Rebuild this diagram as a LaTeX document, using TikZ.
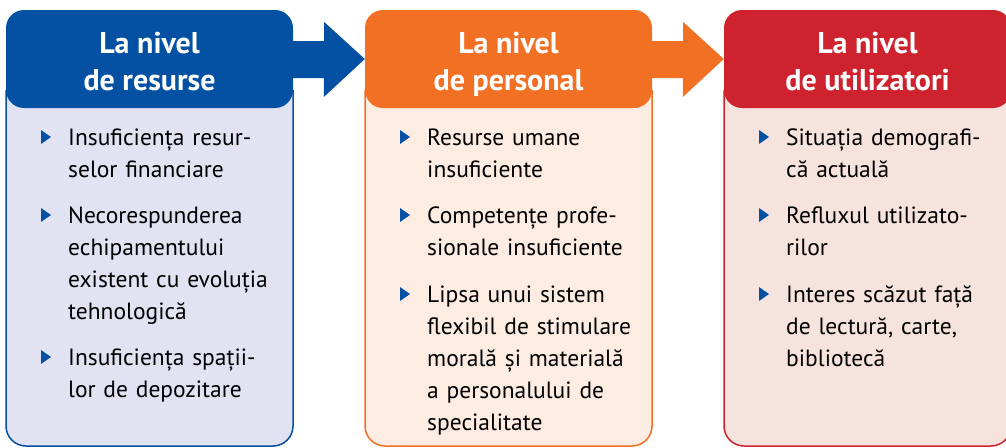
\documentclass[tikz,border=0pt]{standalone}
\usepackage{fontspec}
\setmainfont{PT Sans}

\definecolor{resblue}{HTML}{0450A2}
\definecolor{resback}{HTML}{E1E3F2}
\definecolor{persorange}{HTML}{F27024}
\definecolor{persback}{HTML}{FDECE1}
\definecolor{utilred}{HTML}{CE232E}
\definecolor{utilback}{HTML}{F6E3DE}

\tikzset{
  header/.style={rounded corners=18pt, minimum width=287pt, minimum height=98pt,
                 inner sep=0pt, text=white, align=center,
                 text height=62pt, text depth=0pt,
                 font=\fontsize{30}{37}\selectfont\bfseries},
  panel/.style={rounded corners=20pt, line width=1.5pt},
  item/.style={anchor=base west, text width=260pt, align=left, inner sep=0pt,
               font=\fontsize{23.5}{32}\selectfont}
}
% small blue triangle in front of an item
\newcommand{\bulmark}[1]{\fill[resblue] (#1.base west) ++(-27,-1) -- ++(0,-14) -- ++(10,7) -- cycle;}

\begin{document}
\begin{tikzpicture}[x=1pt,y=-1pt]
  \clip (0,0) rectangle (1006,447);

  % the three panels
  \draw[panel, draw=resblue, fill=resback] (6,90) -- (6,446) -- (293,446) -- (293,90);
  \draw[panel, draw=persorange, fill=persback] (365,90) -- (365,446) -- (652,446) -- (652,90);
  \draw[panel, draw=utilred, fill=utilback] (724,90) -- (724,446) -- (1011,446) -- (1011,90);

  % headers
  \node[header, fill=resblue] (hres) at (149.5,59) {La nivel\\de resurse};
  \node[header, fill=persorange] (hpers) at (508.5,59) {La nivel\\de personal};
  \node[header, fill=utilred] (hutil) at (867.5,59) {La nivel\\de utilizatori};

  % block arrows between the headers
  \fill[resblue] (hres.east) ++(0,-18) -- ++(31,0) -- ++(0,-19) -- (hpers.west)
                 -- ++(-41,38) -- ++(0,-19) -- ++(-31,0) -- cycle;
  \fill[persorange] (hpers.east) ++(0,-18) -- ++(31,0) -- ++(0,-19) -- (hutil.west)
                    -- ++(-41,38) -- ++(0,-19) -- ++(-31,0) -- cycle;

  % items, resources
  \node[item] (res1) at (68,145) {Insuficiența resur-\\selor financiare};
  \node[item] (res2) at (68,223) {Necorespunderea\\echipamentului\\existent cu evoluția\\tehnologică};
  \node[item] (res3) at (68,365) {Insuficiența spații-\\lor de depozitare};
  % items, staff
  \node[item] (pers1) at (427,145) {Resurse umane\\insuficiente};
  \node[item] (pers2) at (427,223) {Competențe profe-\\sionale insuficiente};
  \node[item] (pers3) at (427,302) {Lipsa unui sistem\\flexibil de stimulare\\morală și materială\\a personalului de\\specialitate};
  % items, users
  \node[item] (util1) at (786,145) {Situația demografi-\\că actuală};
  \node[item] (util2) at (786,223) {Refluxul utilizato-\\rilor};
  \node[item] (util3) at (786,302) {Interes scăzut față\\de lectură, carte,\\bibliotecă};

  % bullets
  \bulmark{res1} \bulmark{res2} \bulmark{res3}
  \bulmark{pers1} \bulmark{pers2} \bulmark{pers3}
  \bulmark{util1} \bulmark{util2} \bulmark{util3}
\end{tikzpicture}
\end{document}
